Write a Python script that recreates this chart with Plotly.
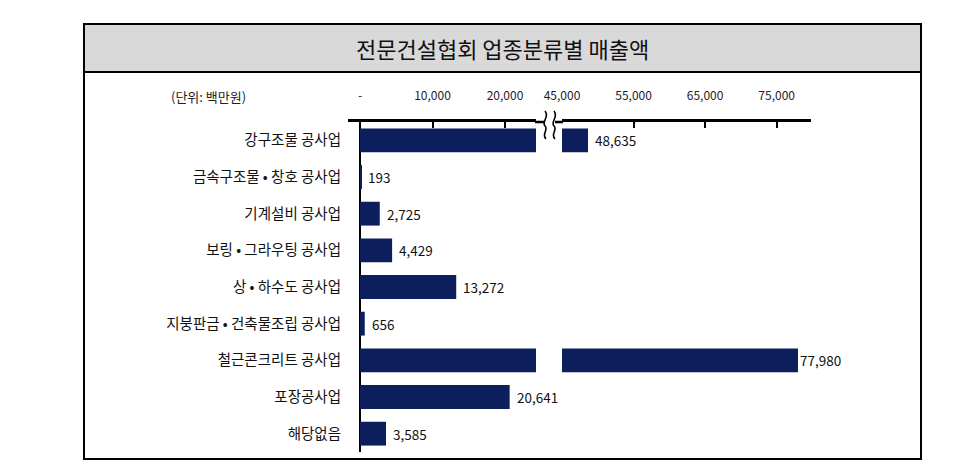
import plotly.graph_objects as go

# ---- data ----
categories = ["강구조물 공사업", "금속구조물 • 창호 공사업", "기계설비 공사업", "보링 • 그라우팅 공사업",
              "상 • 하수도 공사업", "지붕판금 • 건축물조립 공사업", "철근콘크리트 공사업", "포장공사업", "해당없음"]
values = [48635, 193, 2725, 4429, 13272, 656, 77980, 20641, 3585]
left_tickvals = [0, 10000, 20000]
left_ticktext = ["-", "10,000", "20,000"]
right_tickvals = [45000, 55000, 65000, 75000]
right_ticktext = ["45,000", "55,000", "65,000", "75,000"]
break_value = 45000
title_text = "전문건설협회 업종분류별 매출액"
unit_text = "(단위: 백만원)"

W, H = 980, 463
BAR = "#0c1e5b"
KFONT = "Noto Sans CJK KR"
NFONT = "Liberation Sans Narrow, Arial Narrow, Noto Sans CJK KR"


def px(x):
    return x / W


def py(y):
    return 1 - y / H


fig = go.Figure()
fig.add_trace(go.Bar(y=categories, x=values, orientation="h", marker=dict(color=BAR, line=dict(width=0)),
                     xaxis="x", yaxis="y", hoverinfo="x+y"))
fig.add_trace(go.Bar(y=categories, x=values, orientation="h", marker=dict(color=BAR, line=dict(width=0)),
                     xaxis="x2", yaxis="y", hoverinfo="x+y"))

annotations = []
for c, v in zip(categories, values):
    ref = "x2" if v > break_value else "x"
    annotations.append(dict(x=v, y=c, xref=ref, yref="y", text=f"{v:,}", showarrow=False,
                            xanchor="left", xshift=5 if v < 70000 else 0,
                            font=dict(family=NFONT, size=13.5, color="#111")))

annotations.append(dict(x=px(200), y=py(88), xref="paper", yref="paper", text=unit_text, showarrow=False,
                        xanchor="center", yanchor="middle", font=dict(family=KFONT, size=13, color="#222")))
annotations.append(dict(x=px(494.5), y=py(40), xref="paper", yref="paper", text=title_text, showarrow=False,
                        xanchor="center", yanchor="middle", font=dict(family=KFONT, size=22, color="#111")))

shapes = [
    # title band
    dict(type="rect", xref="paper", yref="paper", x0=px(76), x1=px(913), y0=py(64), y1=py(16),
         fillcolor="#d9d9d9", line=dict(color="black", width=2), layer="below"),
    # outer frame
    dict(type="rect", xref="paper", yref="paper", x0=px(76), x1=px(913), y0=py(451), y1=py(16),
         fillcolor="rgba(0,0,0,0)", line=dict(color="black", width=2)),
    # axis line extensions around the break
    dict(type="line", xref="paper", yref="paper", x0=px(527), x1=px(537), y0=py(114), y1=py(114),
         line=dict(color="black", width=2.5)),
    dict(type="line", xref="paper", yref="paper", x0=px(547), x1=px(555), y0=py(114), y1=py(114),
         line=dict(color="black", width=2.5)),
]
# break squiggles
for x0 in (537, 546):
    path = (f"M {px(x0)},{py(103)} C {px(x0+5)},{py(109)} {px(x0-4)},{py(114)} {px(x0)},{py(118)} "
            f"C {px(x0+4)},{py(122)} {px(x0-4)},{py(126)} {px(x0+1)},{py(131)}")
    shapes.append(dict(type="path", xref="paper", yref="paper", path=path,
                       line=dict(color="black", width=1.6)))

axis_common = dict(side="top", showgrid=False, showline=True, linecolor="black", linewidth=2.5,
                   ticks="inside", ticklen=6, tickwidth=1.5, tickcolor="black",
                   tickfont=dict(family=NFONT, size=12, color="#222"), ticklabelstandoff=14,
                   anchor="y", fixedrange=True, automargin=False)

fig.update_layout(
    width=W, height=H, margin=dict(l=0, r=0, t=0, b=0),
    paper_bgcolor="white", plot_bgcolor="white", showlegend=False, bargap=0.35,
    xaxis=dict(domain=[px(340), px(528)], range=[-1655, 24276], tickmode="array",
               tickvals=left_tickvals, ticktext=left_ticktext,
               zeroline=True, zerolinecolor="black", zerolinewidth=1.5, **axis_common),
    xaxis2=dict(domain=[px(554), px(803)], range=[45000, 79800], tickmode="array",
                tickvals=right_tickvals, ticktext=right_ticktext, zeroline=False, **axis_common),
    yaxis=dict(domain=[py(444), py(114)], type="category", range=[8.5, -0.5], anchor="x",
               showline=False, showgrid=False, zeroline=False, ticks="", automargin=False,
               tickfont=dict(family=KFONT, size=14.5, color="#111"), ticklabelstandoff=6, fixedrange=True),
    annotations=annotations, shapes=shapes,
)

fig.write_html("out.html")
